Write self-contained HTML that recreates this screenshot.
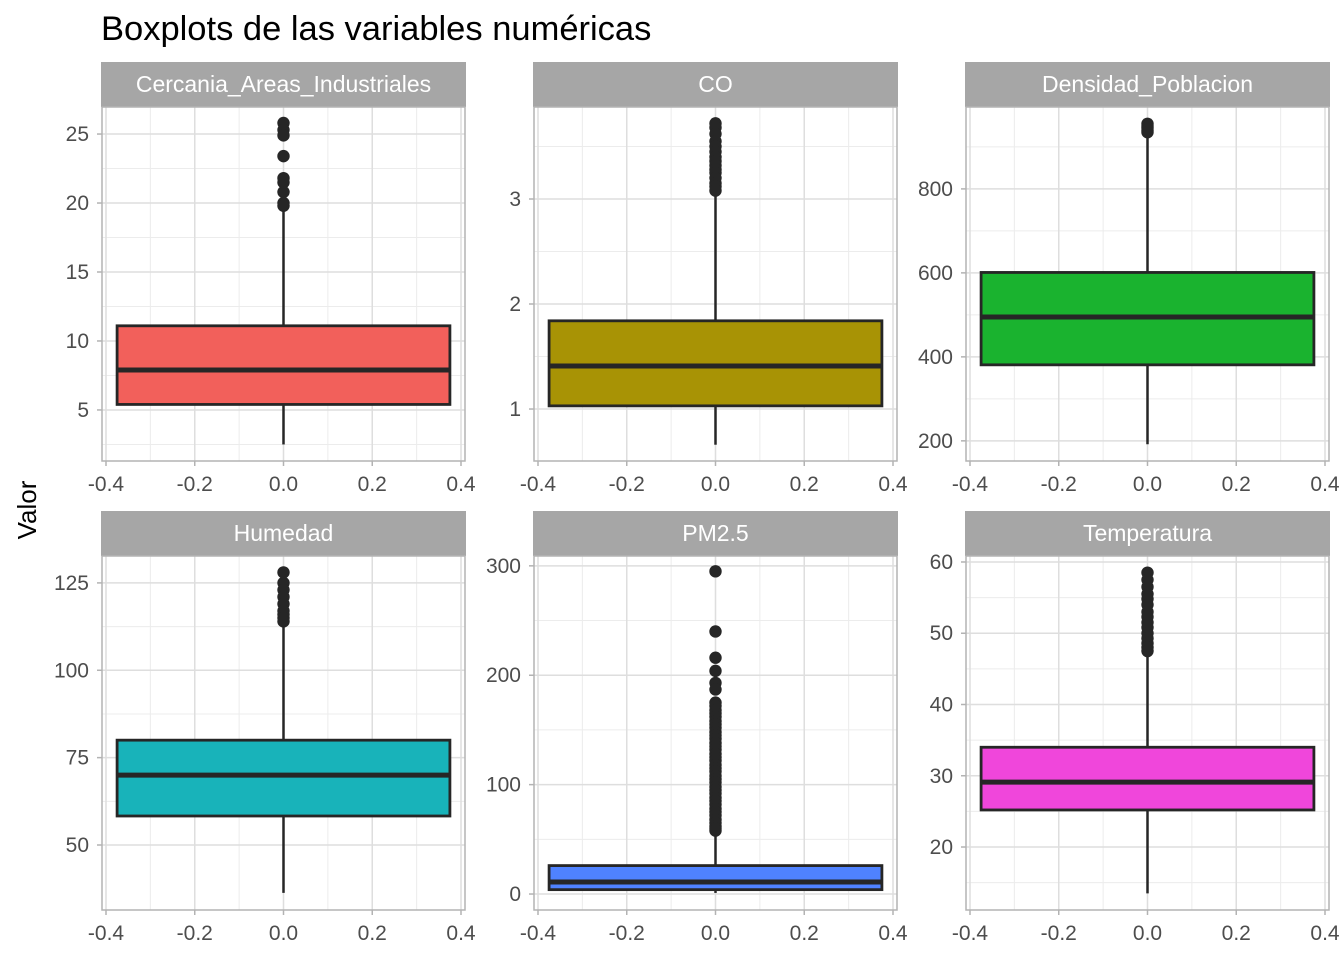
<!DOCTYPE html>
<html><head><meta charset="utf-8"><style>
body{margin:0;background:#fff;}
svg{display:block;font-family:"Liberation Sans",Arial,sans-serif;}
</style></head><body>
<svg id="chart" width="1344" height="960" viewBox="0 0 1344 960" xmlns="http://www.w3.org/2000/svg">
<text x="101" y="40" font-size="34.5" fill="#000">Boxplots de las variables numéricas</text>
<text transform="translate(36,510) rotate(-90)" text-anchor="middle" font-size="26" fill="#000">Valor</text>
</svg>
<script>
const panelNames = ["Cercania_Areas_Industriales","CO","Densidad_Poblacion","Humedad","PM2.5","Temperatura"];
const panelColors = ["#F2605B","#A89305","#1AB32F","#18B3BA","#4F82FF","#F046DB"];
const yDomains = [[1.3,26.96],[0.505,3.876],[152,995],[31.4,132.7],[-14.6,309],[11.16,60.84]];
const yTicks = [[5,10,15,20,25],[1,2,3],[200,400,600,800],[50,75,100,125],[0,100,200,300],[20,30,40,50,60]];
const yMinor = [[2.5,7.5,12.5,17.5,22.5],[1.5,2.5,3.5],[300,500,700,900],[62.5,87.5,112.5],[50,150,250],[15,25,35,45,55]];
const lowWhisker = [2.5,0.66,192,36.3,1,13.5];
const q1 = [5.4,1.03,381,58.3,4,25.2];
const median = [7.9,1.41,495,70,11,29.1];
const q3 = [11.1,1.84,601,80,26,34];
const highWhisker = [19.5,3.05,930,113,57,47.2];
const outliers = [
 [25.8,25.3,24.9,23.4,21.8,21.5,20.8,20.0,19.8],
 [3.72,3.68,3.62,3.55,3.5,3.45,3.4,3.36,3.32,3.28,3.25,3.2,3.15,3.12,3.08],
 [955,950,945,940,935],
 [128,125,123,121,119,117,116,115,114],
 [295,240,216,204,193,187,175,172,168,165,162,158,155,152,148,145,142,138,135,132,128,125,122,118,115,112,108,105,102,98,95,92,88,85,82,78,75,72,68,65,62,60,58],
 [58.5,57.5,56.5,55.5,54.8,54,53,52.3,51.5,50.8,50,49.3,48.6,48,47.5]
];
const xTicks = [-0.4,-0.2,0,0.2,0.4];
const xTickLabels = ["-0.4","-0.2","0.0","0.2","0.4"];
const xMinor = [-0.3,-0.1,0.1,0.3];

const svg = document.getElementById('chart');
const NS = 'http://www.w3.org/2000/svg';
function mk(tag, attrs, parent){const e=document.createElementNS(NS,tag);for(const k in attrs)e.setAttribute(k,attrs[k]);(parent||svg).appendChild(e);return e;}

const colX = [102,534,966], rowY = [107,556], W = 363, H = 354;
panelNames.forEach((name,i)=>{
  const px = colX[i%3], py = rowY[Math.floor(i/3)];
  const g = mk('g',{});
  
  
  const xs = v => px + 4 + (v+0.4)/0.8*(W-8);
  const [d0,d1] = yDomains[i];
  const ys = v => py + H - (v-d0)/(d1-d0)*H;
  const strip = mk('rect',{x:px-1,y:py-45,width:W+2,height:45,fill:'#a6a6a6'},g);
  
  
  const st = mk('text',{x:px+W/2,y:py-15,'text-anchor':'middle','font-size':'23',fill:'#fff'},g);
  
  
  st.textContent = name;
  yMinor[i].forEach(v=>{const y=ys(v); if(y>py&&y<py+H) mk('line',{x1:px,x2:px+W,y1:y,y2:y,stroke:'#ececec','stroke-width':1},g);});
  xMinor.forEach(v=>mk('line',{x1:xs(v),x2:xs(v),y1:py,y2:py+H,stroke:'#ececec','stroke-width':1},g));
  yTicks[i].forEach(v=>{const y=ys(v);
    mk('line',{x1:px,x2:px+W,y1:y,y2:y,stroke:'#dedede','stroke-width':1.5},g);
    mk('line',{x1:px-5,x2:px,y1:y,y2:y,stroke:'#b3b3b3','stroke-width':1.5},g);
    const t=mk('text',{x:px-13,y:y+7,'text-anchor':'end','font-size':'21',fill:'#4d4d4d'},g);
    
    
    t.textContent=v;});
  xTicks.forEach((v,k)=>{const x=xs(v);
    mk('line',{x1:x,x2:x,y1:py,y2:py+H,stroke:'#dedede','stroke-width':1.5},g);
    mk('line',{x1:x,x2:x,y1:py+H,y2:py+H+5,stroke:'#b3b3b3','stroke-width':1.5},g);
    const t=mk('text',{x:x,y:py+H+30,'text-anchor':'middle','font-size':'21',fill:'#4d4d4d'},g);
    
    
    t.textContent=xTickLabels[k];});
  mk('rect',{x:px,y:py,width:W,height:H,fill:'none',stroke:'#b3b3b3','stroke-width':1.5},g);
  const cx = xs(0);
  mk('line',{x1:cx,x2:cx,y1:ys(lowWhisker[i]),y2:ys(q1[i]),stroke:'#262626','stroke-width':2.5},g);
  mk('line',{x1:cx,x2:cx,y1:ys(q3[i]),y2:ys(highWhisker[i]),stroke:'#262626','stroke-width':2.5},g);
  const box = mk('rect',{x:xs(-0.375),y:ys(q3[i]),width:xs(0.375)-xs(-0.375),height:ys(q1[i])-ys(q3[i]),fill:panelColors[i],stroke:'#262626','stroke-width':2.8},g);
  
  
  const med = mk('line',{x1:xs(-0.375),x2:xs(0.375),y1:ys(median[i]),y2:ys(median[i]),stroke:'#262626','stroke-width':5},g);
  
  
  outliers[i].forEach(v=>{const c=mk('circle',{cx:cx,cy:ys(v),r:6.2,fill:'#262626'},g);
    
    });
});
</script>
</body></html>
